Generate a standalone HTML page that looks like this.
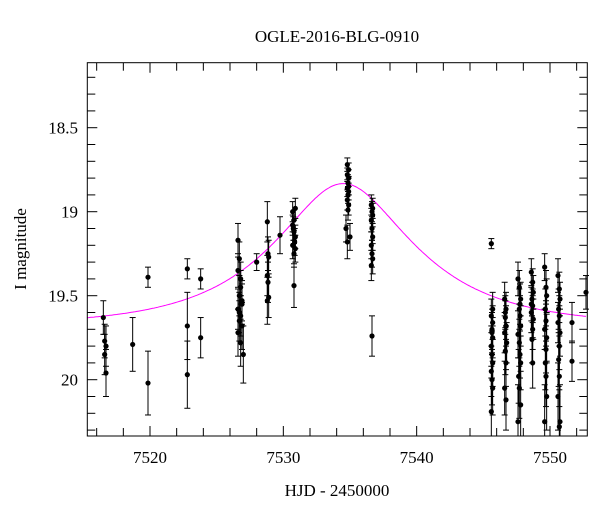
<!DOCTYPE html>
<html><head><meta charset="utf-8"><style>
body{margin:0;background:#fff}
svg{display:block}
text{font-family:"Liberation Serif",serif;fill:#000}
</style></head><body>
<svg id="chart" width="600" height="512">
<text x="337" y="42" font-size="17" text-anchor="middle">OGLE-2016-BLG-0910</text>
<text x="337" y="496" font-size="17" text-anchor="middle">HJD - 2450000</text>
<text x="26" y="249" font-size="17" text-anchor="middle" transform="rotate(-90 26 249)">I magnitude</text>
<g id="ticks"></g>
<g id="model"></g>
<g id="points"></g>
<rect x="87.3" y="62.7" width="500" height="373.3" fill="none" stroke="#000" stroke-width="1"/>
</svg>
<script>
const xTickLabels=[7520,7530,7540,7550];
const yTickLabels=[18.5,19,19.5,20];
const times=[7516.5,7516.6,7516.7,7516.6,7516.7,7518.7,7519.85,7519.85,7522.8,7522.8,7522.8,7523.8,7523.8,
7526.6,7526.7,7526.6,7526.8,7526.7,7526.9,7526.6,7526.8,7526.7,7526.9,7526.6,7526.8,7527.0,7526.7,7526.9,7526.8,
7528.0,7528.8,7528.85,7528.9,7528.8,7528.85,7528.9,7528.8,7529.75,
7530.7,7530.8,7530.9,7530.7,7530.8,7530.9,7530.7,7530.8,7530.9,7530.75,7530.85,7530.8,
7534.8,7534.9,7534.8,7534.9,7534.85,7534.8,7534.9,7534.85,7534.8,7534.9,7534.85,7534.7,7535.0,7534.8,7534.9,
7536.6,7536.7,7536.65,7536.7,7536.6,7536.65,7536.7,7536.6,7536.65,7536.7,7536.6,7536.65,
7545.6,7545.7,7545.6,7545.7,7545.65,7545.7,7545.6,7545.65,7545.7,7545.6,7545.65,7545.7,7545.6,7545.65,
7546.6,7546.7,7546.65,7546.7,7546.6,7546.75,7546.65,7546.7,7546.6,7546.7,7546.65,
7547.6,7547.7,7547.8,7547.7,7547.75,7547.8,7547.6,7547.7,7547.75,7547.8,7547.65,7547.7,7547.8,7547.6,7547.75,
7548.6,7548.7,7548.75,7548.65,7548.7,7548.6,7548.75,7548.7,7548.65,7548.7,7548.6,
7549.6,7549.7,7549.75,7549.65,7549.7,7549.6,7549.75,7549.7,7549.65,7549.7,7549.75,7549.6,
7550.6,7550.7,7550.75,7550.65,7550.7,7550.6,7550.75,7550.7,7550.65,7550.7,7550.6,7550.75,7550.7,
7551.65,7551.65,7552.7];
const mags=[19.63,19.77,19.80,19.85,19.96,19.79,19.39,20.02,19.34,19.68,19.97,19.40,19.75,
19.17,19.28,19.35,19.45,19.50,19.55,19.58,19.62,19.65,19.68,19.72,19.78,19.85,19.60,19.53,19.40,
19.30,19.06,19.25,19.27,19.38,19.42,19.51,19.53,19.14,
19.00,19.05,18.98,19.08,19.12,19.15,19.20,19.25,19.22,19.10,19.18,19.44,
18.72,18.75,18.78,18.80,18.83,18.86,18.88,18.90,18.93,18.96,18.99,19.10,19.15,19.18,18.85,
18.96,18.98,19.00,19.02,19.05,19.10,19.15,19.20,19.25,19.28,19.32,19.74,
19.19,19.58,19.62,19.66,19.70,19.75,19.80,19.85,19.90,19.95,20.00,20.05,20.19,19.72,
19.52,19.58,19.63,19.68,19.72,19.78,19.83,19.90,20.05,20.12,19.60,
19.40,19.45,19.52,19.58,19.62,19.68,19.73,19.78,19.85,19.90,19.98,20.05,20.15,20.25,19.55,
19.36,19.42,19.48,19.52,19.56,19.60,19.64,19.70,19.76,19.90,19.55,
19.33,19.45,19.50,19.58,19.65,19.70,19.75,19.82,19.90,19.98,20.10,20.25,
19.38,19.46,19.52,19.58,19.62,19.66,19.72,19.80,19.88,19.98,20.10,20.25,20.28,
19.66,19.89,19.48];
const errs=[0.1,0.1,0.12,0.12,0.14,0.16,0.06,0.19,0.06,0.2,0.2,0.06,0.12,
0.1,0.1,0.1,0.1,0.12,0.12,0.12,0.12,0.12,0.14,0.14,0.14,0.17,0.12,0.12,0.1,
0.05,0.12,0.1,0.1,0.12,0.12,0.12,0.14,0.11,
0.06,0.06,0.06,0.06,0.07,0.07,0.08,0.08,0.08,0.07,0.08,0.13,
0.04,0.04,0.04,0.05,0.05,0.05,0.05,0.05,0.06,0.06,0.06,0.08,0.08,0.1,0.05,
0.06,0.06,0.06,0.07,0.07,0.07,0.08,0.08,0.08,0.09,0.09,0.12,
0.03,0.1,0.1,0.1,0.12,0.12,0.12,0.14,0.14,0.15,0.15,0.16,0.2,0.12,
0.1,0.1,0.1,0.12,0.12,0.12,0.14,0.14,0.16,0.18,0.1,
0.1,0.1,0.1,0.12,0.12,0.12,0.14,0.14,0.14,0.16,0.16,0.18,0.2,0.22,0.12,
0.08,0.08,0.1,0.1,0.1,0.12,0.12,0.12,0.14,0.15,0.1,
0.08,0.1,0.1,0.12,0.12,0.12,0.14,0.14,0.16,0.18,0.2,0.22,
0.1,0.1,0.1,0.12,0.12,0.12,0.14,0.14,0.16,0.18,0.2,0.22,0.22,
0.12,0.12,0.1];
const modelT0=7534.5, modelTE=9.0, modelU0=0.5, modelBase=19.68;

const NS='http://www.w3.org/2000/svg';
const X0=87.3,X1=587.3,Y0=62.7,Y1=436;
function sx(t){return 150+(t-7520)*13.333;}
function sy(m){return 211.7+(m-19)*168;}
function mk(tag,attrs,parent){const e=document.createElementNS(NS,tag);for(const k in attrs)e.setAttribute(k,attrs[k]);parent.appendChild(e);return e;}
const tk=document.getElementById('ticks');
// x ticks every 2 days, major at 10
for(let t=7516;t<=7552;t+=2){
  const x=sx(t);const major=(t%10===0);const L=major?10:8;
  const a=mk('line',{x1:x,x2:x,y1:Y1,y2:Y1-L,stroke:'#000','stroke-width':1},tk);
  
  
  const b=mk('line',{x1:x,x2:x,y1:Y0,y2:Y0+L,stroke:'#000','stroke-width':1},tk);
  
  
}
xTickLabels.forEach(v=>{
  const t=mk('text',{x:sx(v),y:Y1+27,'font-size':17,'text-anchor':'middle'},tk);t.textContent=v;
  
  
});
for(let i=2;i<=23;i++){
  const m=18.0+i*0.1;const y=sy(m);if(y<Y0||y>Y1)continue;
  const major=(i%5===0);const L=major?10:8;
  const a=mk('line',{x1:X0,x2:X0+L,y1:y,y2:y,stroke:'#000','stroke-width':1},tk);
  
  
  const b=mk('line',{x1:X1,x2:X1-L,y1:y,y2:y,stroke:'#000','stroke-width':1},tk);
  
  
}
yTickLabels.forEach(v=>{
  const t=mk('text',{x:78,y:sy(v)+6,'font-size':17,'text-anchor':'end'},tk);t.textContent=v;
  
  
});
// model
let d='';
for(let t=7515.3;t<=7552.8;t+=0.1){
  const tau=(t-modelT0)/modelTE;const u=Math.sqrt(modelU0*modelU0+tau*tau);
  const A=(u*u+2)/(u*Math.sqrt(u*u+4));const m=modelBase-2.5*Math.log10(A);
  d+=(d?'L':'M')+sx(t).toFixed(1)+','+sy(m).toFixed(1);
}
const mp=mk('path',{d:d,fill:'none',stroke:'#ff00ff','stroke-width':1},document.getElementById('model'));


// points
const pg=document.getElementById('points');
times.forEach((t,i)=>{
  const x=sx(t),y=sy(mags[i]);const y1=Math.max(Y0,sy(mags[i]-errs[i])),y2=Math.min(Y1,sy(mags[i]+errs[i]));
  const g=mk('g',{},pg);
  
  
  mk('line',{x1:x,x2:x,y1:y1,y2:y2,stroke:'#000','stroke-width':1},g);
  mk('line',{x1:x-3,x2:x+3,y1:y1,y2:y1,stroke:'#000','stroke-width':1},g);
  mk('line',{x1:x-3,x2:x+3,y1:y2,y2:y2,stroke:'#000','stroke-width':1},g);
  mk('circle',{cx:x,cy:y,r:2.6,fill:'#000'},g);
});
</script>
</body></html>
